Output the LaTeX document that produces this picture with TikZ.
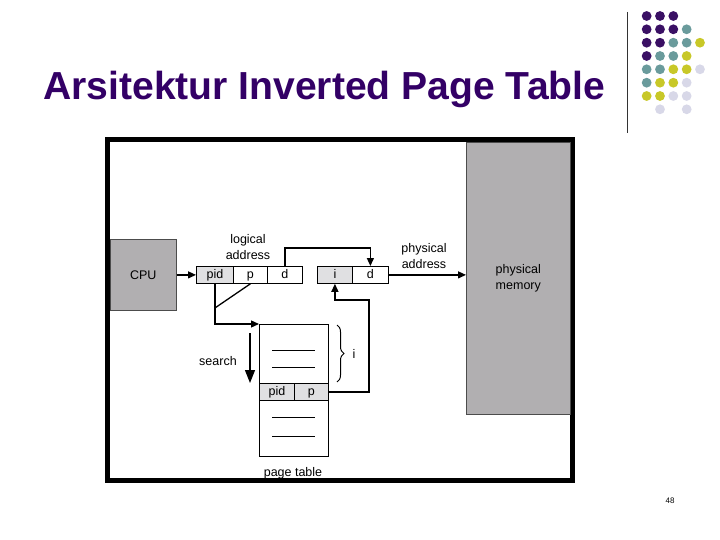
\documentclass[tikz,border=0pt]{standalone}
\usepackage{fontspec}
\setmainfont{Liberation Sans}
\usetikzlibrary{arrows.meta,decorations.pathreplacing,calc}
\definecolor{titlepurple}{RGB}{51,0,102}
\definecolor{dotP}{RGB}{58,16,100}
\definecolor{dotT}{RGB}{106,155,156}
\definecolor{dotY}{RGB}{200,200,40}
\definecolor{dotL}{RGB}{216,216,232}
\definecolor{boxgrey}{RGB}{177,175,177}
\definecolor{cellgrey}{RGB}{224,224,226}
\tikzset{
  lab/.style={font=\fontsize{12.5}{16}\selectfont, inner sep=0pt, align=center},
  cell/.style={draw, line width=0.8pt, inner sep=0pt, minimum height=17pt, text height=9pt, text depth=2.5pt, anchor=north west, font=\fontsize{12.5}{15}\selectfont},
  bigbox/.style={draw=black!70, line width=0.6pt, fill=boxgrey, inner sep=0pt, anchor=north west},
  arr/.style={line width=1.3pt, -{Triangle[length=8pt,width=7pt]}},
  con/.style={line width=1.3pt},
  tline/.style={line width=0.8pt}
}
\begin{document}
\begin{tikzpicture}[x=1pt,y=-1pt]
\useasboundingbox (0,0) rectangle (720,540);

% title
\node[anchor=base west, inner sep=0pt, text=titlepurple, font=\bfseries\fontsize{39.1}{44}\selectfont] (title) at (43,100) {Arsitektur Inverted Page Table};

% decorative line and dots
\draw[line width=0.8pt, black!80] (627,12) -- (627,133);
\foreach \c [count=\k] in {dotP,dotP,dotP} \fill[\c] ({633.33+13.33*\k},16) circle (4.9pt);
\foreach \c [count=\k] in {dotP,dotP,dotP,dotT} \fill[\c] ({633.33+13.33*\k},29.3) circle (4.9pt);
\foreach \c [count=\k] in {dotP,dotP,dotT,dotT,dotY} \fill[\c] ({633.33+13.33*\k},42.7) circle (4.9pt);
\foreach \c [count=\k] in {dotP,dotT,dotT,dotY} \fill[\c] ({633.33+13.33*\k},56) circle (4.9pt);
\foreach \c [count=\k] in {dotT,dotT,dotY,dotY,dotL} \fill[\c] ({633.33+13.33*\k},69.3) circle (4.9pt);
\foreach \c [count=\k] in {dotT,dotY,dotY,dotL} \fill[\c] ({633.33+13.33*\k},82.7) circle (4.9pt);
\foreach \c [count=\k] in {dotY,dotY,dotL,dotL} \fill[\c] ({633.33+13.33*\k},96) circle (4.9pt);
\fill[dotL] (660,109.3) circle (4.9pt);
\fill[dotL] (686.7,109.3) circle (4.9pt);

% frame
\draw[line width=5pt] (107.5,139.5) rectangle (572.5,480.5);

% big boxes
\node[bigbox, minimum width=104pt, minimum height=272pt, align=center, lab] (pm) at (466,142) {physical\\memory};
\node[bigbox, minimum width=66pt, minimum height=71pt, lab] (cpu) at (110,239) {CPU};

% logical address
\node[cell, fill=cellgrey, minimum width=37pt] (lpid) at (196,266) {pid};
\node[cell, minimum width=34pt] (lp) at (233,266) {p};
\node[cell, minimum width=35pt] (ld) at (267,266) {d};
\node[lab] (llab) at (248,247) {logical\\address};

% physical address cells
\node[cell, fill=cellgrey, minimum width=35pt] (pi) at (317,266) {i};
\node[cell, minimum width=36pt] (pd) at (352,266) {d};
\node[lab] (plab) at (424,256) {physical\\address};

% page table
\node[draw, line width=0.8pt, inner sep=0pt, minimum width=69pt, minimum height=132pt, anchor=north west] (pt) at (259,324) {};
\node[cell, fill=cellgrey, minimum width=35pt] (tpid) at (259,383) {pid};
\node[cell, fill=cellgrey, minimum width=34pt] (tp) at (294,383) {p};
\draw[tline] (272,350) -- (315,350);
\draw[tline] (272,367) -- (315,367);
\draw[tline] (272,417) -- (315,417);
\draw[tline] (272,436) -- (315,436);
\node[lab] (ptlab) at (293,473) {page table};

% connectors
\draw[arr] (cpu.east |- lpid.west) -- (lpid.west);
\draw[arr] (ld.north) -- ++(0,-18) -| (pd.north);
\draw[arr] (pd.east) -- (pm.west |- pd.east);
\draw[arr] (lpid.south) |- (pt.north west);
\coordinate (diag) at (lpid.south |- 0,308);
\draw[con] (lp.south) -- (diag);
\coordinate (loop) at (369,300);
\draw[arr] (tp.east) -| (loop) -| (pi.south);

% search
\coordinate (s1) at (250,333);
\coordinate (s2) at (250,383);
\draw[line width=1.3pt, -{Triangle[length=13pt,width=10pt]}] (s1) -- (s2);
\node[lab] (search) at (218,361) {search};

% brace
\draw[line width=1pt, decorate, decoration={brace, amplitude=7pt}] (337,325) -- (337,382);
\node[lab] (ilab) at (354,354) {i};

% page number
\node[font=\fontsize{8}{10}\selectfont, inner sep=0pt] (pg) at (670,501) {48};
\end{tikzpicture}
\end{document}
